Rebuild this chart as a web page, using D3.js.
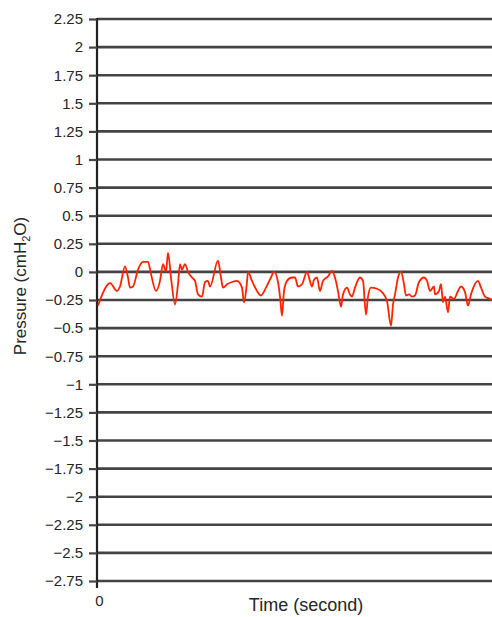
<!DOCTYPE html>
<html>
<head>
<meta charset="utf-8">
<script src="https://cdn.jsdelivr.net/npm/d3@7"></script>
<style>
  body { margin: 0; background: #fff; }
  svg { display: block; font-family: "Liberation Sans", Arial, Helvetica, sans-serif; }
</style>
</head>
<body>
<div class="chart"></div>
<script>
// y tick values (cmH2O)
const yTicks = [2.25, 2, 1.75, 1.5, 1.25, 1, 0.75, 0.5, 0.25, 0, -0.25, -0.5, -0.75,
  -1, -1.25, -1.5, -1.75, -2, -2.25, -2.5, -2.75];
const xTicks = [0];

// time (s) and pressure (cmH2O)
const time = [0.02, 0.22, 0.26, 0.40, 0.46, 0.56, 0.62, 0.66, 0.72, 0.82, 0.92, 1.02, 1.08,
  1.18, 1.26, 1.32, 1.38, 1.42, 1.48, 1.56, 1.62, 1.66, 1.70, 1.76, 1.82, 1.90,
  1.96, 2.02, 2.10, 2.16, 2.22, 2.26, 2.42, 2.48, 2.52, 2.60, 2.70, 2.80, 2.90,
  2.94, 3.00, 3.02, 3.10, 3.20, 3.28, 3.38, 3.48, 3.54, 3.62, 3.66, 3.70, 3.74,
  3.80, 3.90, 3.96, 4.02, 4.10, 4.20, 4.24, 4.30, 4.34, 4.40, 4.46, 4.52, 4.62,
  4.70, 4.76, 4.82, 4.88, 4.92, 5.00, 5.06, 5.10, 5.16, 5.26, 5.32, 5.38, 5.42,
  5.48, 5.60, 5.70, 5.80, 5.88, 5.92, 5.96, 6.02, 6.08, 6.14, 6.18, 6.24, 6.30,
  6.36, 6.44, 6.54, 6.60, 6.66, 6.74, 6.76, 6.84, 6.88, 6.92, 6.96, 7.02, 7.06,
  7.14, 7.22, 7.28, 7.36, 7.42, 7.48, 7.62, 7.68, 7.76, 7.86, 7.90];
const pressure = [-0.30, -0.11, -0.10, -0.17, -0.13, 0.05, -0.05, -0.14, -0.13, 0.02, 0.09, 0.09, -0.02,
  -0.17, -0.08, 0.07, 0.00, 0.17, -0.05, -0.29, -0.11, 0.07, 0.02, 0.07, 0.00, -0.05,
  -0.08, -0.20, -0.22, -0.09, -0.08, -0.13, 0.10, -0.05, -0.14, -0.11, -0.09, -0.08, -0.14,
  -0.27, -0.09, 0.00, -0.08, -0.17, -0.21, -0.14, -0.05, 0.00, -0.09, -0.22, -0.39, -0.17,
  -0.08, -0.05, -0.05, -0.13, -0.11, 0.00, -0.05, -0.13, -0.07, -0.05, -0.17, -0.08, -0.04,
  0.01, -0.05, -0.17, -0.31, -0.20, -0.14, -0.20, -0.22, -0.14, -0.05, -0.08, -0.38, -0.22,
  -0.14, -0.15, -0.18, -0.26, -0.48, -0.29, -0.20, -0.05, 0.00, -0.11, -0.21, -0.20, -0.22,
  -0.21, -0.09, -0.05, -0.08, -0.17, -0.13, -0.20, -0.17, -0.11, -0.27, -0.22, -0.36, -0.22,
  -0.24, -0.17, -0.13, -0.18, -0.30, -0.20, -0.08, -0.14, -0.22, -0.24, -0.25];

const width = 492, height = 617;
const margin = { top: 19, right: 0, bottom: 36, left: 97 };

const xScale = d3.scaleLinear()
  .domain([0, 7.9])
  .range([margin.left, width - margin.right]);

const yScale = d3.scaleLinear()
  .domain([-2.75, 2.25])
  .range([height - margin.bottom, margin.top]);

const fmt = v => String(v).replace("-", "\u2212");

const svg = d3.select(".chart")
  .append("svg")
  .attr("width", width)
  .attr("height", height);

// horizontal grid lines
svg.append("g")
  .selectAll("line")
  .data(yTicks)
  .join("line")
  .attr("x1", margin.left)
  .attr("x2", width)
  .attr("y1", d => yScale(d))
  .attr("y2", d => yScale(d))
  .attr("stroke", "#444")
  .attr("stroke-width", 2.6);

// y axis
const yAxis = svg.append("g")
  .attr("transform", "translate(" + margin.left + ",0)")
  .call(d3.axisLeft(yScale).tickValues(yTicks).tickSize(8).tickPadding(6).tickFormat(fmt));
yAxis.select(".domain").attr("stroke", "#222").attr("stroke-width", 2.2)
  .attr("d", "M0," + (yScale(2.25) - 1) + "V" + (yScale(-2.75) + 7));
yAxis.selectAll(".tick line").attr("stroke", "#444").attr("stroke-width", 2.2);
yAxis.selectAll(".tick text").attr("font-size", 15).attr("fill", "#262626")
  .attr("font-family", "Liberation Sans, Arial, sans-serif");

// x axis (only the origin is labelled)
const xAxis = svg.append("g")
  .attr("transform", "translate(0," + yScale(-2.75) + ")")
  .call(d3.axisBottom(xScale).tickValues(xTicks).tickSize(0).tickPadding(14).tickFormat(d3.format("d")));
xAxis.select(".domain").remove();
xAxis.selectAll(".tick text").attr("font-size", 15).attr("fill", "#262626")
  .attr("dx", 2)
  .attr("font-family", "Liberation Sans, Arial, sans-serif");

// pressure trace
const line = d3.line()
  .x((d, i) => xScale(time[i]))
  .y(d => yScale(d))
  .curve(d3.curveMonotoneX);

svg.append("path")
  .datum(pressure)
  .attr("fill", "none")
  .attr("stroke", "#ff2200")
  .attr("stroke-width", 1.8)
  .attr("stroke-linejoin", "round")
  .attr("d", line);

// axis titles
svg.append("text")
  .attr("x", 306)
  .attr("y", 611)
  .attr("text-anchor", "middle")
  .attr("font-size", 18)
  .attr("fill", "#262626")
  .text("Time (second)");

const yTitle = svg.append("text")
  .attr("transform", "translate(26,286) rotate(-90)")
  .attr("text-anchor", "middle")
  .attr("font-size", 17)
  .attr("fill", "#262626");
yTitle.append("tspan").text("Pressure (cmH");
yTitle.append("tspan").attr("font-size", 11).attr("dy", 4).text("2");
yTitle.append("tspan").attr("dy", -4).text("O)");
</script>
</body>
</html>
